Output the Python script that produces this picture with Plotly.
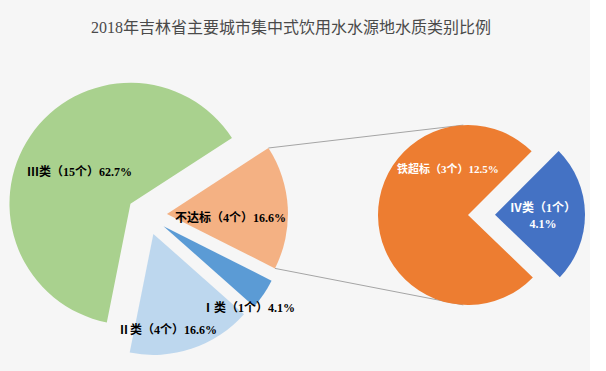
import math
import plotly.graph_objects as go

# ---------------- data ----------------
main_labels = ["不达标", "Ⅰ类", "Ⅱ类", "Ⅲ类"]
main_counts = [4, 1, 4, 15]
main_pcts = [16.6, 4.1, 16.6, 62.7]

sub_labels = ["Ⅳ类", "铁超标"]
sub_counts = [1, 3]
sub_pcts = [4.1, 12.5]

title_text = "2018年吉林省主要城市集中式饮用水水源地水质类别比例"

# ---------------- style / geometry ----------------
W, H = 606, 371
main_colors = ["#f4b183", "#5b9bd5", "#bdd7ee", "#a9d18e"]
sub_colors = ["#4472c4", "#ed7d31"]
main_c = (147, 215); main_r = 121; main_pull = 0.165; main_rot = 57
sub_c = (468, 215); sub_r = 90; sub_pull = [0.3, 0.0]; sub_rot = 45
# label placement relative to each pie centre: (angle clockwise from 12 o'clock, radius fraction)
main_lab_pos = [(91.4, 0.69), (132.3, 1.13), (169.6, 0.96), (302.7, 0.66)]
sub_lab_pos = [(90, 0.83), (336.5, 0.56)]
main_text_col = ["black", "black", "black", "black"]
sub_text_col = ["white", "white"]
FONT = "Liberation Serif, Noto Sans CJK SC, serif"


def domain(c, r, pull):
    half = r * (1 + pull)
    return dict(x=[(c[0] - half) / W, (c[0] + half) / W],
                y=[1 - (c[1] + half) / H, 1 - (c[1] - half) / H])


def pt(c, r, ang):
    a = math.radians(ang)
    return c[0] + r * math.sin(a), c[1] - r * math.cos(a)


fig = go.Figure()
fig.add_trace(go.Pie(
    labels=main_labels, values=main_pcts, sort=False, direction="clockwise",
    rotation=main_rot, pull=[main_pull] * len(main_pcts),
    marker=dict(colors=main_colors, line=dict(width=0)),
    textinfo="none", hoverinfo="label+value", domain=domain(main_c, main_r, main_pull),
))
fig.add_trace(go.Pie(
    labels=sub_labels, values=sub_pcts, sort=False, direction="clockwise",
    rotation=sub_rot, pull=sub_pull,
    marker=dict(colors=sub_colors, line=dict(width=0)),
    textinfo="none", hoverinfo="label+value", domain=domain(sub_c, sub_r, max(sub_pull)),
))

shapes = [dict(type="rect", xref="paper", yref="paper", x0=0, x1=590 / W, y0=0, y1=1,
               fillcolor="#f6f6f6", line=dict(width=0), layer="below")]

# connector lines from the "不达标" slice corners to the secondary pie
tot = sum(main_pcts)
start = main_rot
end = main_rot + main_pcts[0] / tot * 360
mid = (start + end) / 2
pc = pt(main_c, main_pull * main_r, mid)
p_top = pt(pc, main_r, start)
p_bot = pt(pc, main_r, end)
s_top = pt(sub_c, sub_r, -3)
s_bot = pt(sub_c, sub_r, 183)
for a, b in [(p_top, s_top), (p_bot, s_bot)]:
    shapes.append(dict(type="line", xref="paper", yref="paper",
                       x0=a[0] / W, y0=1 - a[1] / H, x1=b[0] / W, y1=1 - b[1] / H,
                       line=dict(color="#a5a5a5", width=1), layer="below"))

annotations = [dict(text=title_text, x=291 / W, y=1 - 28 / H, xref="paper", yref="paper",
                    xanchor="center", yanchor="middle", showarrow=False,
                    font=dict(family=FONT, size=16, color="#4a4a4a"))]

for lab, cnt, pct, (ang, fr), col in zip(main_labels, main_counts, main_pcts, main_lab_pos, main_text_col):
    x, y = pt(main_c, fr * main_r, ang)
    annotations.append(dict(text=f"<b>{lab}（{cnt}个）{pct}%</b>", x=x / W, y=1 - y / H,
                            xref="paper", yref="paper", xanchor="center", yanchor="middle",
                            showarrow=False, font=dict(family=FONT, size=12, color=col)))
for i, (lab, cnt, pct, (ang, fr), col) in enumerate(zip(sub_labels, sub_counts, sub_pcts, sub_lab_pos, sub_text_col)):
    x, y = pt(sub_c, fr * sub_r, ang)
    sep = "<br>" if i == 0 else ""
    annotations.append(dict(text=f"<b>{lab}（{cnt}个）{sep}{pct}%</b>", x=x / W, y=1 - y / H,
                            xref="paper", yref="paper", xanchor="center", yanchor="middle",
                            showarrow=False,
                            font=dict(family=FONT, size=12 if i == 0 else 11, color=col)))

fig.update_layout(
    width=W, height=H, margin=dict(l=0, r=0, t=0, b=0),
    paper_bgcolor="white", plot_bgcolor="white", showlegend=False,
    shapes=shapes, annotations=annotations,
)
fig.write_html("out.html", config={"displayModeBar": False},
               post_script="document.body.style.margin='0';document.body.style.overflow='hidden';")
